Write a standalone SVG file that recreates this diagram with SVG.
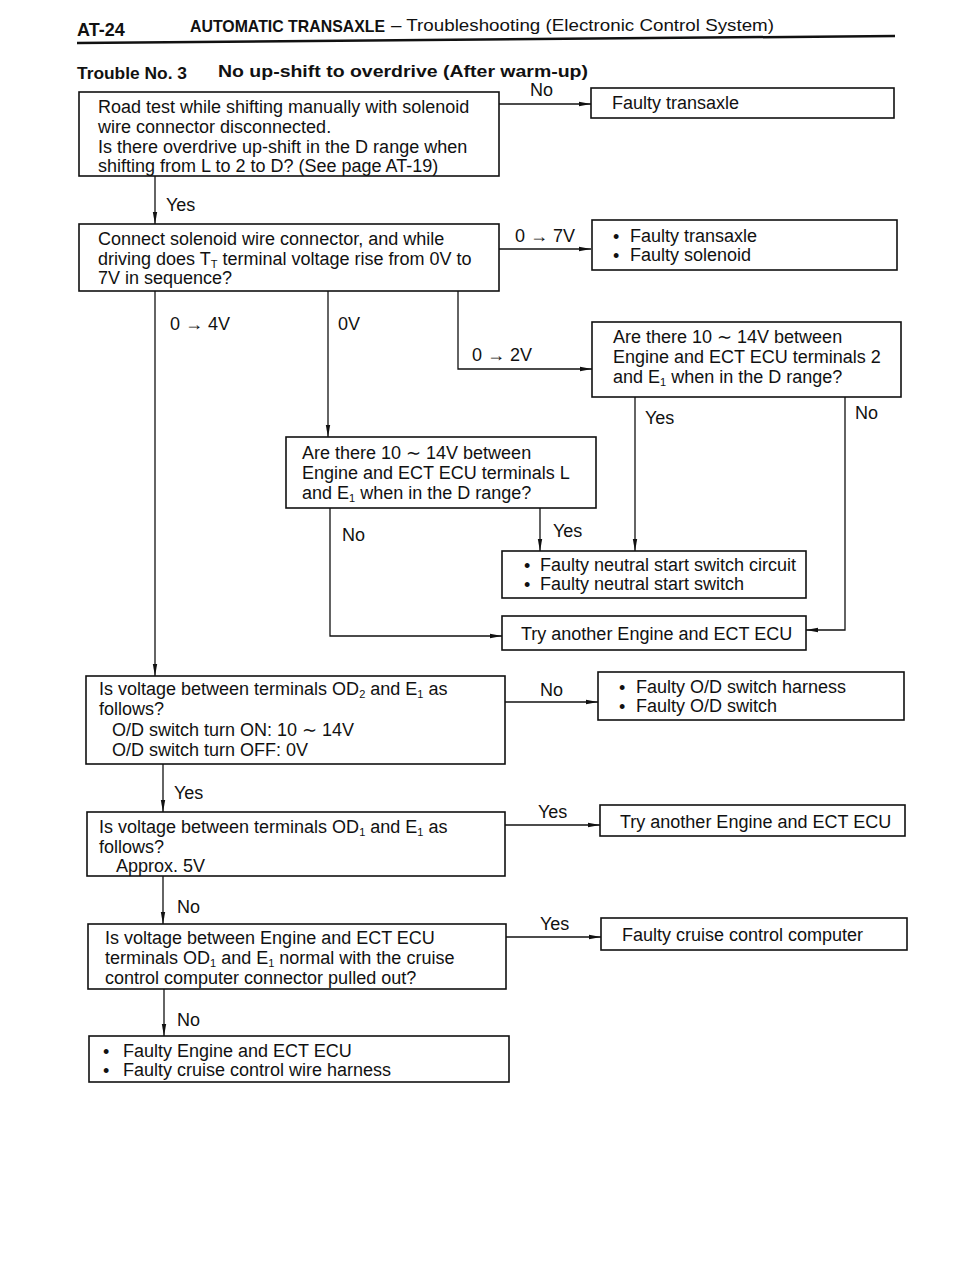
<svg xmlns="http://www.w3.org/2000/svg" width="960" height="1280" viewBox="0 0 960 1280">
<defs>
<style>
text{font-family:"Liberation Sans",Arial,sans-serif;font-size:18px;fill:#111}
.h{font-size:17px}
.b{font-weight:bold}
.box{fill:#fff;stroke:#111;stroke-width:1.6}
.ln{fill:none;stroke:#111;stroke-width:1.3}
.sub{font-size:11px}
</style>
<marker id="ar" viewBox="0 0 12 6" refX="12" refY="3" markerWidth="12" markerHeight="6" markerUnits="userSpaceOnUse" orient="auto">
<path d="M0,0.8 L12,3 L0,5.2 z" fill="#111"/>
</marker>
</defs>
<rect width="960" height="1280" fill="#fff"/>

<g id="header">
<text x="77" y="36" class="b" style="font-size:18px">AT-24</text>
<text x="190" y="32" class="h b" textLength="195" lengthAdjust="spacingAndGlyphs">AUTOMATIC TRANSAXLE</text>
<text x="391" y="31" class="h" textLength="383" lengthAdjust="spacingAndGlyphs">– Troubleshooting (Electronic Control System)</text>
<line x1="77" y1="43" x2="895" y2="36" stroke="#111" stroke-width="2.5"/>
<text x="77" y="79" class="h b" textLength="110" lengthAdjust="spacingAndGlyphs">Trouble No. 3</text>
<text x="218" y="77" class="h b" textLength="370" lengthAdjust="spacingAndGlyphs">No up-shift to overdrive (After warm-up)</text>
</g>

<g id="connectors">
<line class="ln" x1="499" y1="104" x2="591" y2="104" marker-end="url(#ar)"/>
<line class="ln" x1="155" y1="176" x2="155" y2="224" marker-end="url(#ar)"/>
<line class="ln" x1="499" y1="249" x2="591" y2="249" marker-end="url(#ar)"/>
<line class="ln" x1="155" y1="291" x2="155" y2="676" marker-end="url(#ar)"/>
<line class="ln" x1="328" y1="291" x2="328" y2="437" marker-end="url(#ar)"/>
<polyline class="ln" points="458,291 458,369 592,369" marker-end="url(#ar)"/>
<line class="ln" x1="635" y1="397" x2="635" y2="551" marker-end="url(#ar)"/>
<polyline class="ln" points="845,397 845,630 806,630" marker-end="url(#ar)"/>
<polyline class="ln" points="330,508 330,636 502,636" marker-end="url(#ar)"/>
<line class="ln" x1="540" y1="508" x2="540" y2="551" marker-end="url(#ar)"/>
<line class="ln" x1="505" y1="702" x2="598" y2="702" marker-end="url(#ar)"/>
<line class="ln" x1="163" y1="764" x2="163" y2="812" marker-end="url(#ar)"/>
<line class="ln" x1="505" y1="825" x2="600" y2="825" marker-end="url(#ar)"/>
<line class="ln" x1="163" y1="876" x2="163" y2="924" marker-end="url(#ar)"/>
<line class="ln" x1="506" y1="937" x2="601" y2="937" marker-end="url(#ar)"/>
<line class="ln" x1="164" y1="989" x2="164" y2="1036" marker-end="url(#ar)"/>
</g>

<g id="labels">
<text x="530" y="96">No</text>
<text x="166" y="211">Yes</text>
<text x="515" y="242">0 → 7V</text>
<text x="170" y="330">0 → 4V</text>
<text x="338" y="330">0V</text>
<text x="472" y="361">0 → 2V</text>
<text x="645" y="424">Yes</text>
<text x="855" y="419">No</text>
<text x="342" y="541">No</text>
<text x="553" y="537">Yes</text>
<text x="540" y="696">No</text>
<text x="174" y="799">Yes</text>
<text x="538" y="818">Yes</text>
<text x="177" y="913">No</text>
<text x="540" y="930">Yes</text>
<text x="177" y="1026">No</text>
</g>

<g id="n1">
<rect class="box" x="79" y="92" width="420" height="84"/>
<text x="98" y="113">Road test while shifting manually with solenoid</text>
<text x="98" y="133">wire connector disconnected.</text>
<text x="98" y="153">Is there overdrive up-shift in the D range when</text>
<text x="98" y="172">shifting from L to 2 to D? (See page AT-19)</text>
</g>

<g id="n2">
<rect class="box" x="591" y="88" width="303" height="30"/>
<text x="612" y="109">Faulty transaxle</text>
</g>

<g id="n3">
<rect class="box" x="79" y="224" width="420" height="67"/>
<text x="98" y="245">Connect solenoid wire connector, and while</text>
<text x="98" y="265">driving does T<tspan class="sub" dy="3">T</tspan><tspan dy="-3"> terminal voltage rise from 0V to</tspan></text>
<text x="98" y="284">7V in sequence?</text>
</g>

<g id="n4">
<rect class="box" x="592" y="220" width="305" height="50"/>
<text x="613" y="243">•</text><text x="630" y="242">Faulty transaxle</text>
<text x="613" y="262">•</text><text x="630" y="261">Faulty solenoid</text>
</g>

<g id="n5">
<rect class="box" x="592" y="322" width="309" height="75"/>
<text x="613" y="343">Are there 10 ∼ 14V between</text>
<text x="613" y="363">Engine and ECT ECU terminals 2</text>
<text x="613" y="383">and E<tspan class="sub" dy="3">1</tspan><tspan dy="-3"> when in the D range?</tspan></text>
</g>

<g id="n6">
<rect class="box" x="286" y="437" width="310" height="71"/>
<text x="302" y="459">Are there 10 ∼ 14V between</text>
<text x="302" y="479">Engine and ECT ECU terminals L</text>
<text x="302" y="499">and E<tspan class="sub" dy="3">1</tspan><tspan dy="-3"> when in the D range?</tspan></text>
</g>

<g id="n7">
<rect class="box" x="502" y="551" width="304" height="47"/>
<text x="524" y="572">•</text><text x="540" y="571">Faulty neutral start switch circuit</text>
<text x="524" y="591">•</text><text x="540" y="590">Faulty neutral start switch</text>
</g>

<g id="n8">
<rect class="box" x="502" y="616" width="304" height="34"/>
<text x="521" y="640">Try another Engine and ECT ECU</text>
</g>

<g id="n9">
<rect class="box" x="86" y="676" width="419" height="88"/>
<text x="99" y="695">Is voltage between terminals OD<tspan class="sub" dy="3">2</tspan><tspan dy="-3"> and E</tspan><tspan class="sub" dy="3">1</tspan><tspan dy="-3"> as</tspan></text>
<text x="99" y="715">follows?</text>
<text x="112" y="736">O/D switch turn ON:   10 ∼ 14V</text>
<text x="112" y="756">O/D switch turn OFF:  0V</text>
</g>

<g id="n10">
<rect class="box" x="598" y="672" width="306" height="48"/>
<text x="619" y="694">•</text><text x="636" y="693">Faulty O/D switch harness</text>
<text x="619" y="713">•</text><text x="636" y="712">Faulty O/D switch</text>
</g>

<g id="n11">
<rect class="box" x="87" y="812" width="418" height="64"/>
<text x="99" y="833">Is voltage between terminals OD<tspan class="sub" dy="3">1</tspan><tspan dy="-3"> and E</tspan><tspan class="sub" dy="3">1</tspan><tspan dy="-3"> as</tspan></text>
<text x="99" y="853">follows?</text>
<text x="116" y="872">Approx. 5V</text>
</g>

<g id="n12">
<rect class="box" x="600" y="805" width="305" height="31"/>
<text x="620" y="828">Try another Engine and ECT ECU</text>
</g>

<g id="n13">
<rect class="box" x="88" y="924" width="418" height="65"/>
<text x="105" y="944">Is voltage between Engine and ECT ECU</text>
<text x="105" y="964">terminals OD<tspan class="sub" dy="3">1</tspan><tspan dy="-3"> and E</tspan><tspan class="sub" dy="3">1</tspan><tspan dy="-3"> normal with the cruise</tspan></text>
<text x="105" y="984">control computer connector pulled out?</text>
</g>

<g id="n14">
<rect class="box" x="601" y="918" width="306" height="32"/>
<text x="622" y="941">Faulty cruise control computer</text>
</g>

<g id="n15">
<rect class="box" x="89" y="1036" width="420" height="46"/>
<text x="103" y="1058">•</text><text x="123" y="1057">Faulty Engine and ECT ECU</text>
<text x="103" y="1077">•</text><text x="123" y="1076">Faulty cruise control wire harness</text>
</g>
</svg>
